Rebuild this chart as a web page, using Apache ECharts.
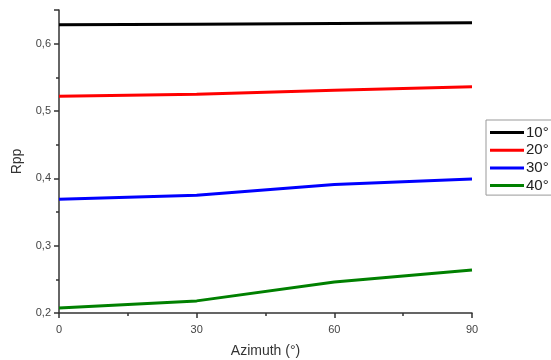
<!DOCTYPE html>
<html><head><meta charset="utf-8">
<script src="https://cdn.jsdelivr.net/npm/echarts@6/dist/echarts.min.js"></script>
<style>html,body{margin:0;padding:0;background:#fff}#c{width:551px;height:360px}</style>
</head><body><div id="c"></div>
<script>
var azimuth = [0, 30, 60, 90];
var seriesNames = ['10°', '20°', '30°', '40°'];
var rpp10 = [0.628, 0.629, 0.630, 0.631];
var rpp20 = [0.522, 0.525, 0.531, 0.536];
var rpp30 = [0.369, 0.375, 0.391, 0.399];
var rpp40 = [0.2075, 0.218, 0.246, 0.264];
var colors = ['#000000', '#ff0000', '#0000ff', '#008000'];
var values = [rpp10, rpp20, rpp30, rpp40];

var chart = echarts.init(document.getElementById('c'));
var font = 'Liberation Sans, Arial, sans-serif';
chart.setOption({
  animation: false,
  grid: {left: 59, right: 79, top: 10, bottom: 47, outerBoundsMode: 'none', containLabel: false},
  legend: {
    orient: 'vertical', left: 486, top: 120,
    itemWidth: 34, itemHeight: 3, itemGap: 2.7,
    icon: 'rect',
    borderColor: '#999', borderWidth: 1, padding: [5, 20, 2, 4],
    textStyle: {fontFamily: font, fontSize: 15, color: '#222', padding: [0, 0, 0, -3]},
    data: seriesNames
  },
  xAxis: {
    type: 'value', min: 0, max: 90, interval: 30,
    name: 'Azimuth (°)', nameLocation: 'middle', nameGap: 31,
    nameTextStyle: {fontFamily: font, fontSize: 14, color: '#333'},
    axisLine: {lineStyle: {color: '#333', width: 1.5}},
    axisTick: {length: 5, lineStyle: {color: '#333', width: 1.5}},
    minorTick: {show: true, splitNumber: 2, length: 3, lineStyle: {color: '#333', width: 1.5}},
    axisLabel: {fontFamily: font, fontSize: 11, color: '#444', margin: 11},
    splitLine: {show: false}
  },
  yAxis: {
    type: 'value', min: 0.2, max: 0.65, interval: 0.1,
    name: 'Rpp', nameLocation: 'middle', nameGap: 35, nameRotate: 90,
    nameTextStyle: {fontFamily: font, fontSize: 14, color: '#333'},
    axisLine: {show: true, lineStyle: {color: '#333', width: 1.5}},
    axisTick: {show: true, length: 5, lineStyle: {color: '#333', width: 1.5}},
    minorTick: {show: true, splitNumber: 2, length: 3, lineStyle: {color: '#333', width: 1.5}},
    axisLabel: {fontFamily: font, fontSize: 11, color: '#444', margin: 8, showMaxLabel: false,
      formatter: function (v) { return Math.abs(v - 0.65) < 1e-6 ? '' : v.toFixed(1).replace('.', ','); }},
    splitLine: {show: false}
  },
  series: seriesNames.map(function (n, i) {
    return {
      name: n, type: 'line', symbol: 'none',
      lineStyle: {color: colors[i], width: 3},
      itemStyle: {color: colors[i]},
      data: azimuth.map(function (a, j) { return [a, values[i][j]]; })
    };
  })
});
</script>
</body></html>
